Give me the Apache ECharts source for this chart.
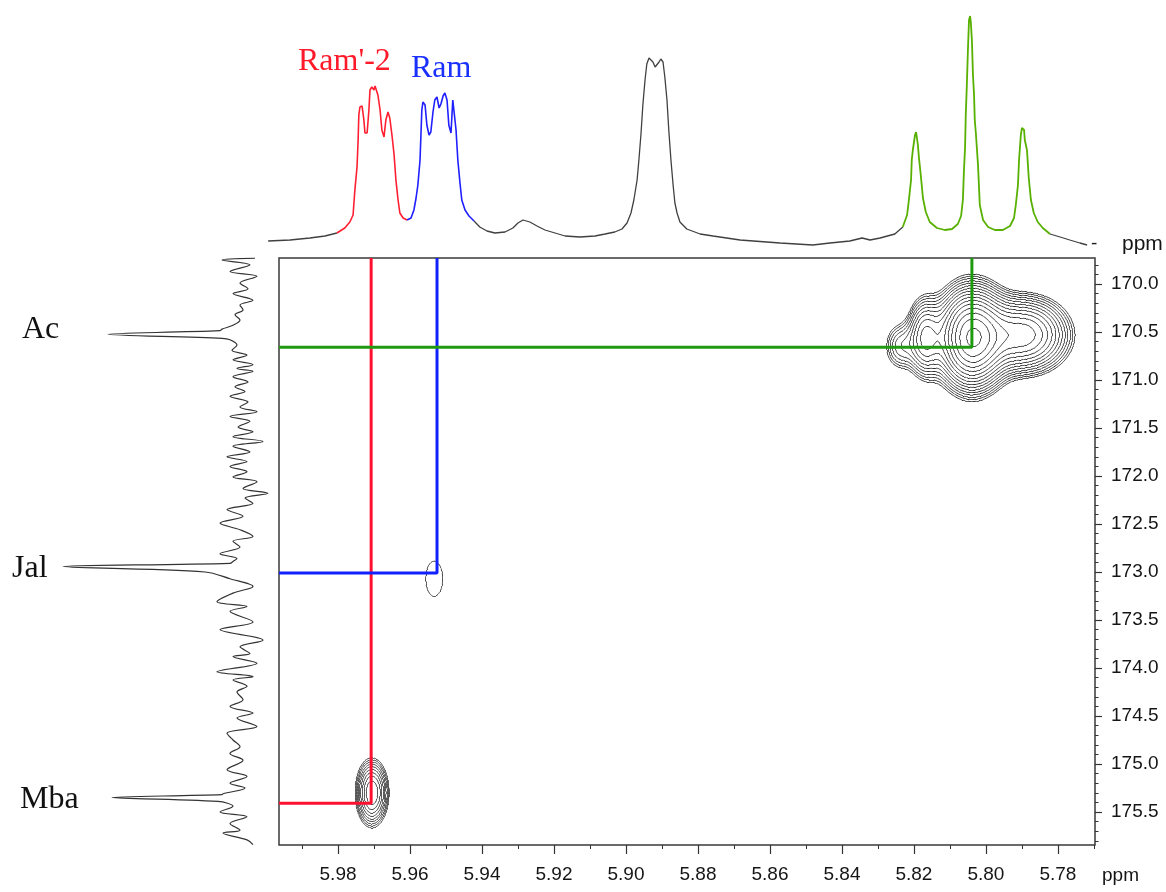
<!DOCTYPE html>
<html>
<head>
<meta charset="utf-8">
<script src="https://cdn.jsdelivr.net/npm/echarts@6/dist/echarts.min.js"></script>
<style>
  html, body { margin: 0; padding: 0; background: #ffffff; }
  #chart { width: 1166px; height: 892px; }
</style>
</head>
<body>
<div id="chart"></div>
<script>
// ---- Axis ticks (ppm) ----
const protonTicks = [5.78, 5.80, 5.82, 5.84, 5.86, 5.88, 5.90, 5.92, 5.94, 5.96, 5.98];
const carbonTicks = [170.0, 170.5, 171.0, 171.5, 172.0, 172.5, 173.0, 173.5, 174.0, 174.5, 175.0, 175.5];

// ---- 1H projection (top trace): [ppm, intensity] ----
const traceLead = [[5.9994,7],[5.9933,8],[5.9878,10],[5.9836,12],[5.9803,15]];
const traceRamPrime2 = [[5.9803,15],[5.9781,20],[5.9767,26],[5.9758,33],[5.9753,58],[5.9747,81],[5.9744,108],[5.9742,133],[5.9739,141],[5.9733,142],[5.9728,128],[5.9725,115],[5.9719,115],[5.9714,138],[5.9711,158],[5.9706,161],[5.9700,158],[5.9697,162],[5.9692,161],[5.9689,153],[5.9683,138],[5.9678,118],[5.9672,111],[5.9667,128],[5.9661,136],[5.9656,130],[5.9650,113],[5.9644,93],[5.9639,68],[5.9633,48],[5.9628,35],[5.9619,30],[5.9608,28]];
const traceRam = [[5.9608,28],[5.9597,30],[5.9589,38],[5.9583,50],[5.9578,63],[5.9572,88],[5.9569,118],[5.9567,138],[5.9564,146],[5.9558,143],[5.9553,123],[5.9547,113],[5.9542,116],[5.9536,136],[5.9531,148],[5.9525,151],[5.9519,140],[5.9514,144],[5.9508,152],[5.9503,155],[5.9497,148],[5.9492,123],[5.9486,115],[5.9481,148],[5.9478,146],[5.9472,118],[5.9467,88],[5.9461,65],[5.9456,48],[5.9447,38],[5.9436,32],[5.9422,27]];
const traceMiddle = [[5.9422,27],[5.9406,21],[5.9386,17],[5.9364,15],[5.9336,16],[5.9314,20],[5.9300,25],[5.9286,28],[5.9267,26],[5.9247,22],[5.9225,18],[5.9197,15],[5.9169,12],[5.9128,11],[5.9086,12],[5.9058,14],[5.9031,16],[5.9011,19],[5.8997,25],[5.8986,35],[5.8978,48],[5.8969,68],[5.8964,88],[5.8958,115],[5.8953,143],[5.8947,168],[5.8942,184],[5.8936,190],[5.8931,190],[5.8925,186],[5.8919,181],[5.8914,181],[5.8908,186],[5.8903,189],[5.8897,186],[5.8892,171],[5.8886,148],[5.8881,118],[5.8875,88],[5.8869,63],[5.8864,45],[5.8858,35],[5.8850,26],[5.8831,19],[5.8794,14],[5.8758,12],[5.8683,8],[5.8572,5],[5.8481,3],[5.8433,5],[5.8378,7],[5.8344,10],[5.8322,8],[5.8294,10],[5.8253,14],[5.8231,21]];
const traceAcetyl = [[5.8231,21],[5.8219,33],[5.8214,48],[5.8208,68],[5.8206,88],[5.8203,98],[5.8197,113],[5.8194,116],[5.8192,114],[5.8189,103],[5.8186,90],[5.8181,73],[5.8175,50],[5.8167,36],[5.8156,26],[5.8136,20],[5.8114,18],[5.8094,19],[5.8078,24],[5.8069,32],[5.8064,48],[5.8061,78],[5.8058,100],[5.8056,133],[5.8053,163],[5.8050,198],[5.8047,228],[5.8044,232],[5.8042,226],[5.8039,208],[5.8036,173],[5.8033,153],[5.8031,128],[5.8028,115],[5.8022,83],[5.8017,43],[5.8008,28],[5.7994,21],[5.7975,18],[5.7953,18],[5.7933,22],[5.7922,30],[5.7917,43],[5.7911,63],[5.7908,88],[5.7906,98],[5.7903,113],[5.7900,120],[5.7897,121],[5.7894,118],[5.7892,108],[5.7886,98],[5.7881,70],[5.7875,48],[5.7867,35],[5.7856,26],[5.7842,20],[5.7822,14]];
const traceTail = [[5.7822,14],[5.7794,11],[5.7767,8],[5.7739,5],[5.7719,3]];

// ---- 13C projection (left trace) ----
const carbonShift = [169.73,169.75,169.80,169.87,169.92,169.99,170.05,170.10,170.17,170.22,170.27,170.32,170.375,170.43,170.47,170.486,170.524,170.566,170.58,170.635,170.69,170.74,170.79,170.84,170.88,170.91,170.965,171.02,171.07,171.12,171.17,171.23,171.28,171.33,171.38,171.43,171.49,171.54,171.59,171.64,171.69,171.75,171.80,171.85,171.90,171.955,172.01,172.06,172.13,172.18,172.23,172.285,172.35,172.42,172.49,172.56,172.63,172.68,172.74,172.81,172.86,172.89,172.91,172.944,173.00,173.07,173.15,173.22,173.31,173.36,173.41,173.52,173.60,173.71,173.78,173.85,173.88,173.95,174.04,174.09,174.125,174.19,174.25,174.33,174.40,174.47,174.52,174.61,174.68,174.75,174.82,174.89,174.96,175.06,175.13,175.20,175.25,175.31,175.32,175.35,175.39,175.44,175.50,175.55,175.62,175.69,175.72,175.79,175.84];
const carbonIntensity = [15,48,20,40,13,30,22,37,17,30,27,35,30,37,48,50,162,48,40,33,38,23,37,17,33,17,37,22,35,25,40,22,30,13,40,20,32,17,37,7,37,20,43,23,40,23,37,13,27,2,25,17,43,27,50,30,17,37,30,50,33,37,40,207,65,40,17,37,53,23,40,17,50,7,30,20,37,13,53,17,37,23,33,27,40,17,33,13,43,37,30,40,27,43,23,40,25,47,48,158,52,37,50,23,40,30,47,23,17];

// ---- Cross-peak assignments (1H ppm, 13C ppm) ----
const crossPeakNames = ["Mba", "Jal", "Ac"];
const crossPeakH = [5.9708, 5.9525, 5.8039];
const crossPeakC = [175.41, 173.01, 170.66];

// ---- 2D peak model used for the contour map ----
const peakH      = [5.8039, 5.7897, 5.8169, 5.8239, 5.9533, 5.9706];
const peakC      = [170.56, 170.53, 170.56, 170.65, 173.07, 175.30];
const peakAmp    = [1.0,    0.5,    0.3,    0.12,   0.059,  0.3];
const peakWidthH = [0.0050, 0.0067, 0.0028, 0.0028, 0.0041, 0.0025];
const peakWidthC = [0.271,  0.208,  0.229,  0.156,  0.317,  0.193];
const contourLevels = [0.05, 0.061, 0.074, 0.091, 0.11, 0.135, 0.165, 0.2, 0.245, 0.3, 0.365, 0.445, 0.545, 0.665, 0.81, 0.99];

// ---- layout ----
const H_MIN = 5.7697, H_MAX = 5.9964;
const C_MIN = 169.729, C_MAX = 175.844;
const SANS = "'Liberation Sans', Arial, sans-serif";
const SERIF = "'Liberation Serif', 'Times New Roman', serif";

function intensityAt(h, c) {
  let s = 0;
  for (let k = 0; k < peakH.length; k++) {
    const dx = (h - peakH[k]) / peakWidthH[k];
    const dy = (c - peakC[k]) / peakWidthC[k];
    s += peakAmp[k] * Math.exp(-0.5 * (dx * dx + dy * dy));
  }
  return s;
}

// marching squares over a window, returns line segments in data coords
function contourSegments(h0, h1, c0, c1, nh, nc) {
  const hs = [], cs = [];
  for (let i = 0; i <= nh; i++) hs.push(h0 + (h1 - h0) * i / nh);
  for (let j = 0; j <= nc; j++) cs.push(c0 + (c1 - c0) * j / nc);
  const f = cs.map(c => hs.map(h => intensityAt(h, c)));
  const segs = [];
  for (const L of contourLevels) {
    for (let j = 0; j < nc; j++) {
      for (let i = 0; i < nh; i++) {
        const a = f[j][i], b = f[j][i + 1], cc = f[j + 1][i + 1], d = f[j + 1][i];
        const A = [hs[i], cs[j]], B = [hs[i + 1], cs[j]], C = [hs[i + 1], cs[j + 1]], D = [hs[i], cs[j + 1]];
        const pts = [];
        const cut = (v1, v2, p1, p2) => {
          const t = (L - v1) / (v2 - v1);
          return [p1[0] + t * (p2[0] - p1[0]), p1[1] + t * (p2[1] - p1[1])];
        };
        if ((a >= L) !== (b >= L)) pts.push(cut(a, b, A, B));
        if ((b >= L) !== (cc >= L)) pts.push(cut(b, cc, B, C));
        if ((cc >= L) !== (d >= L)) pts.push(cut(cc, d, C, D));
        if ((d >= L) !== (a >= L)) pts.push(cut(d, a, D, A));
        if (pts.length >= 2) segs.push({ coords: [pts[0], pts[1]] });
        if (pts.length === 4) segs.push({ coords: [pts[2], pts[3]] });
      }
    }
  }
  return segs;
}

const contourData = []
  .concat(contourSegments(5.766, 5.840, 169.75, 171.45, 220, 200))
  .concat(contourSegments(5.944, 5.963, 172.55, 173.60, 80, 120))
  .concat(contourSegments(5.961, 5.981, 174.75, 175.84, 90, 140));

const minorH = [];
for (let k = 0; k <= 22; k++) minorH.push(+(5.77 + k * 0.01).toFixed(2));
const minorC = [];
for (let k = 0; k <= 60; k++) minorC.push(+(169.8 + k * 0.1).toFixed(1));

const markerColors = { Mba: '#ff1030', Jal: '#1020ff', Ac: '#1f9a10' };
const markerSeries = crossPeakNames.map((name, i) => ({
  type: 'line',
  xAxisIndex: 0, yAxisIndex: 0,
  data: [[crossPeakH[i], C_MIN], [crossPeakH[i], crossPeakC[i]], [H_MAX, crossPeakC[i]]],
  symbol: 'none',
  lineStyle: { color: markerColors[name], width: 3 },
  z: 5, silent: true
}));

function traceSeries(data, color, width) {
  return {
    type: 'line', xAxisIndex: 2, yAxisIndex: 2,
    data: data, symbol: 'none',
    lineStyle: { color: color, width: width },
    silent: true
  };
}

const chart = echarts.init(document.getElementById('chart'), null, { renderer: 'canvas' });
chart.setOption({
  animation: false,
  backgroundColor: '#ffffff',
  grid: [
    { left: 279, top: 258, width: 816, height: 587, show: true, borderColor: '#3a3a3a', borderWidth: 1.5, backgroundColor: 'transparent' },
    { left: 262, top: 8, width: 833, height: 240 },
    { left: 0, top: 258, width: 270, height: 587 }
  ],
  xAxis: [
    {
      gridIndex: 0, type: 'value', position: 'bottom', inverse: true, min: H_MIN, max: H_MAX,
      axisLine: { show: false }, splitLine: { show: false },
      axisTick: { show: true, customValues: protonTicks, length: 9, lineStyle: { color: '#333', width: 1.2 } },
      axisLabel: { show: true, customValues: protonTicks, formatter: v => Number(v).toFixed(2), margin: 20,
                   fontFamily: SANS, fontSize: 19, color: '#151515' }
    },
    {
      gridIndex: 0, type: 'value', position: 'bottom', inverse: true, min: H_MIN, max: H_MAX,
      axisLine: { show: false }, splitLine: { show: false },
      axisTick: { show: true, customValues: minorH, length: 4, lineStyle: { color: '#333', width: 1 } },
      axisLabel: { show: false }
    },
    { gridIndex: 1, type: 'value', inverse: true, min: H_MIN, max: 6.0011, show: false },
    { gridIndex: 2, type: 'value', inverse: true, min: 0, max: 270, show: false }
  ],
  yAxis: [
    {
      gridIndex: 0, type: 'value', position: 'right', inverse: true, min: C_MIN, max: C_MAX,
      axisLine: { show: false }, splitLine: { show: false },
      axisTick: { show: true, customValues: carbonTicks, length: 7, lineStyle: { color: '#333', width: 1.2 } },
      axisLabel: { show: true, customValues: carbonTicks, formatter: v => Number(v).toFixed(1), margin: 16,
                   fontFamily: SANS, fontSize: 19, color: '#151515' }
    },
    {
      gridIndex: 0, type: 'value', position: 'right', inverse: true, min: C_MIN, max: C_MAX,
      axisLine: { show: false }, splitLine: { show: false },
      axisTick: { show: true, customValues: minorC, length: 3.5, lineStyle: { color: '#333', width: 1 } },
      axisLabel: { show: false }
    },
    { gridIndex: 1, type: 'value', min: 0, max: 240, show: false },
    { gridIndex: 2, type: 'value', inverse: true, min: C_MIN, max: C_MAX, show: false }
  ],
  series: [
    {
      type: 'lines', coordinateSystem: 'cartesian2d', xAxisIndex: 0, yAxisIndex: 0,
      polyline: false, data: contourData,
      lineStyle: { color: '#2e2e2e', width: 1.0, opacity: 1 },
      silent: true, z: 3
    },
    ...markerSeries,
    traceSeries(traceLead, '#404040', 1.3),
    traceSeries(traceRamPrime2, '#ff1f30', 1.6),
    traceSeries(traceRam, '#1f1fff', 1.6),
    traceSeries(traceMiddle, '#404040', 1.3),
    traceSeries(traceAcetyl, '#58b000', 1.8),
    traceSeries(traceTail, '#404040', 1.3),
    {
      type: 'line', xAxisIndex: 3, yAxisIndex: 3,
      data: carbonShift.map((c, i) => [carbonIntensity[i], c]),
      symbol: 'none', smooth: 0.35,
      lineStyle: { color: '#333333', width: 1.2 }, silent: true
    }
  ],
  graphic: [
    { type: 'text', left: 298, top: 46, style: { text: "Ram'-2", font: '32px ' + SERIF, fill: '#ff1a2a' } },
    { type: 'text', left: 411, top: 53, style: { text: 'Ram', font: '32px ' + SERIF, fill: '#1a30ff' } },
    { type: 'text', left: 22, top: 314, style: { text: 'Ac', font: '32px ' + SERIF, fill: '#111' } },
    { type: 'text', left: 12, top: 553, style: { text: 'Jal', font: '32px ' + SERIF, fill: '#111' } },
    { type: 'text', left: 20, top: 784, style: { text: 'Mba', font: '32px ' + SERIF, fill: '#111' } },
    { type: 'text', left: 1091, top: 234, style: { text: '-', font: '19px ' + SANS, fill: '#222' } },
    { type: 'text', left: 1122, top: 234, style: { text: 'ppm', font: '21px ' + SANS, fill: '#151515' } },
    { type: 'text', left: 1102, top: 866, style: { text: 'ppm', font: '19px ' + SANS, fill: '#151515' } }
  ]
});
</script>
</body>
</html>
